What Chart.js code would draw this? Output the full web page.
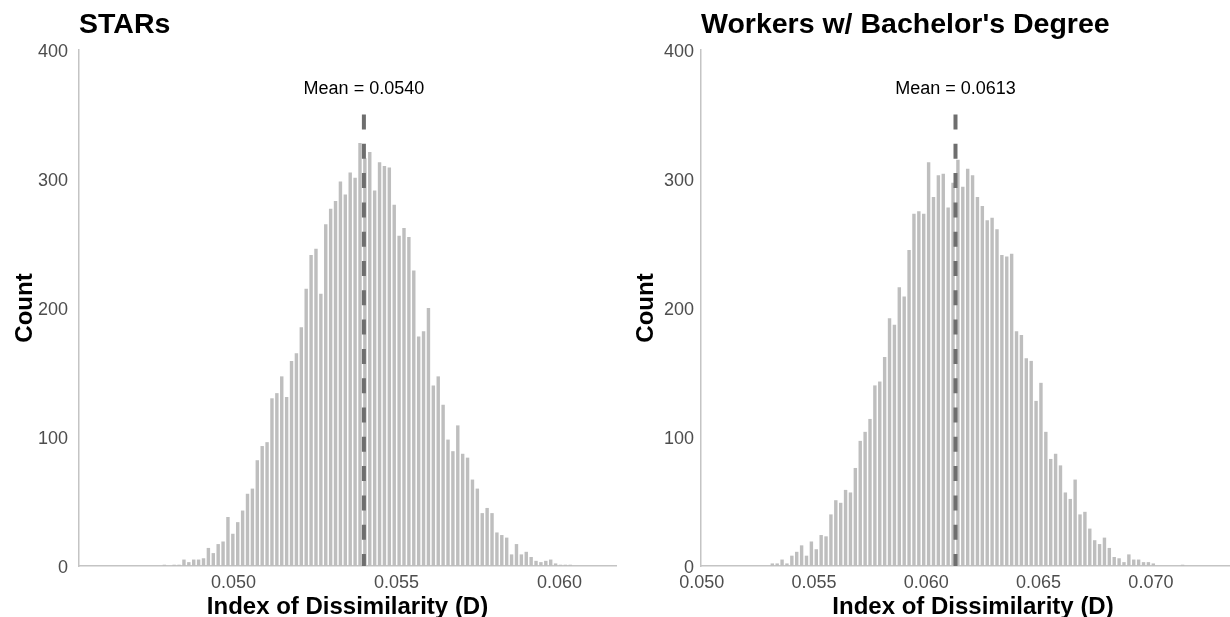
<!DOCTYPE html>
<html>
<head>
<meta charset="utf-8">
<script src="https://cdn.jsdelivr.net/npm/chart.js@4.4.1/dist/chart.umd.min.js"></script>
<style>
  html, body { margin: 0; padding: 0; background: #fff; overflow: hidden; }
  #starsChart { position: absolute; left: 0; top: 0; }
  #workersChart { position: absolute; left: 620px; top: 0; }
</style>
</head>
<body>
<canvas id="starsChart" width="620" height="617"></canvas>
<canvas id="workersChart" width="625" height="617"></canvas>
<script>
// STARs: bin centres start at starsBinStart, one bin every starsBinWidth
const starsBinStart = 0.04788;
const starsBinWidth = 0.00015;
const starsCounts = [
  1, 0, 1, 1, 5, 3, 5, 5, 6, 14,
  10, 17, 19, 38, 25, 34, 43, 56, 60, 82,
  93, 96, 130, 134, 147, 131, 159, 165, 185, 215,
  241, 246, 211, 265, 277, 283, 298, 288, 305, 301,
  328, 316, 321, 291, 313, 310, 309, 280, 256, 262,
  255, 229, 178, 182, 200, 140, 147, 125, 98, 89,
  109, 87, 84, 67, 60, 41, 45, 41, 26, 24,
  22, 9, 17, 9, 11, 7, 4, 3, 4, 5,
  2, 1, 1, 1
];
const starsMean = 0.0540;
const starsXTicks = [0.050, 0.055, 0.060];

// Workers w/ Bachelor's Degree
const workersBinStart = 0.053144;
const workersBinWidth = 0.00021747;
const workersCounts = [
  2, 2, 5, 2, 8, 11, 16, 8, 19, 13,
  24, 23, 40, 51, 49, 59, 57, 76, 97, 104,
  114, 140, 143, 162, 192, 187, 216, 209, 245, 273,
  275, 273, 313, 286, 303, 304, 278, 297, 315, 294,
  308, 303, 286, 279, 268, 270, 261, 241, 240, 242,
  182, 179, 161, 159, 128, 142, 104, 83, 87, 78,
  57, 52, 67, 40, 42, 29, 20, 17, 22, 14,
  7, 6, 3, 9, 5, 5, 3, 3, 2, 0,
  0, 0, 0, 0, 1
];
const workersMean = 0.0613;
const workersXTicks = [0.050, 0.055, 0.060, 0.065, 0.070];

const countTicks = [0, 100, 200, 300, 400];

Chart.defaults.font.family = '"Liberation Sans", Arial, Helvetica, sans-serif';

// dashed vertical line at the mean, with its label above
const meanLine = {
  id: 'meanLine',
  afterDatasetsDraw(chart, args, opts) {
    const { ctx, scales: { x, y } } = chart;
    const px = x.getPixelForValue(opts.value);
    ctx.save();
    ctx.strokeStyle = '#6e6e6e';
    ctx.lineWidth = 4;
    ctx.setLineDash([15, 14.3]);
    ctx.beginPath();
    ctx.moveTo(px, y.getPixelForValue(opts.top));
    ctx.lineTo(px, y.getPixelForValue(0));
    ctx.stroke();
    ctx.setLineDash([]);
    ctx.fillStyle = '#000';
    ctx.font = '18px "Liberation Sans", Arial, sans-serif';
    ctx.textAlign = 'center';
    ctx.textBaseline = 'middle';
    ctx.fillText('Mean = ' + opts.value.toFixed(4), px, y.getPixelForValue(opts.labelAt));
    ctx.restore();
  }
};

function histogram(id, p) {
  const points = p.counts.map((c, i) => ({ x: p.binStart + i * p.binWidth, y: c }));
  return new Chart(id, {
    type: 'bar',
    data: {
      datasets: [{
        data: points,
        backgroundColor: '#bebebe',
        borderWidth: 0,
        barPercentage: 0.7,
        categoryPercentage: 1.0
      }]
    },
    plugins: [meanLine],
    options: {
      responsive: false,
      animation: false,
      layout: { padding: { left: 0, right: p.padRight, top: 0, bottom: 0 } },
      plugins: {
        legend: { display: false },
        tooltip: { enabled: false },
        title: {
          display: true,
          text: p.title,
          align: 'start',
          fullSize: false,
          color: '#000',
          font: { size: 28.5, weight: 'bold' },
          padding: { top: 8.4, bottom: 7.4 }
        },
        meanLine: { value: p.mean, top: 350, labelAt: 370 }
      },
      scales: {
        x: {
          type: 'linear',
          offset: false,
          min: p.xMin,
          max: p.xMax,
          afterBuildTicks: s => { s.ticks = p.xTicks.map(v => ({ value: v })); },
          afterFit: s => { s.height = 51; },
          grid: { display: false, drawTicks: false },
          border: { display: true, color: '#c4c4c4', width: 1.5 },
          ticks: {
            padding: 6,
            color: '#4d4d4d',
            font: { size: 18 },
            maxRotation: 0,
            callback: v => v.toFixed(3)
          },
          title: {
            display: true,
            text: 'Index of Dissimilarity (D)',
            color: '#000',
            font: { size: 24, weight: 'bold' },
            padding: { top: 0, bottom: -5 }
          }
        },
        y: {
          min: 0,
          max: 400,
          afterBuildTicks: s => { s.ticks = countTicks.map(v => ({ value: v })); },
          afterFit: s => { s.width = p.yWidth; },
          grid: { display: false, drawTicks: false },
          border: { display: true, color: '#c4c4c4', width: 1.5 },
          ticks: {
            padding: p.yTickPad,
            labelOffset: 2,
            color: '#4d4d4d',
            font: { size: 18 }
          },
          title: {
            display: true,
            text: 'Count',
            color: '#000',
            font: { size: 24, weight: 'bold' },
            padding: { top: p.yTitlePad, bottom: 0 }
          }
        }
      }
    }
  });
}

histogram('starsChart', {
  title: 'STARs',
  counts: starsCounts,
  binStart: starsBinStart,
  binWidth: starsBinWidth,
  mean: starsMean,
  xTicks: starsXTicks,
  xMin: 0.045261,
  xMax: 0.061733,
  padRight: 4,
  yWidth: 79,
  yTickPad: 11,
  yTitlePad: 11
});

histogram('workersChart', {
  title: "Workers w/ Bachelor's Degree",
  counts: workersCounts,
  binStart: workersBinStart,
  binWidth: workersBinWidth,
  mean: workersMean,
  xTicks: workersXTicks,
  xMin: 0.049969,
  xMax: 0.07419,
  padRight: 0,
  yWidth: 81,
  yTickPad: 7,
  yTitlePad: 12
});
</script>
</body>
</html>
